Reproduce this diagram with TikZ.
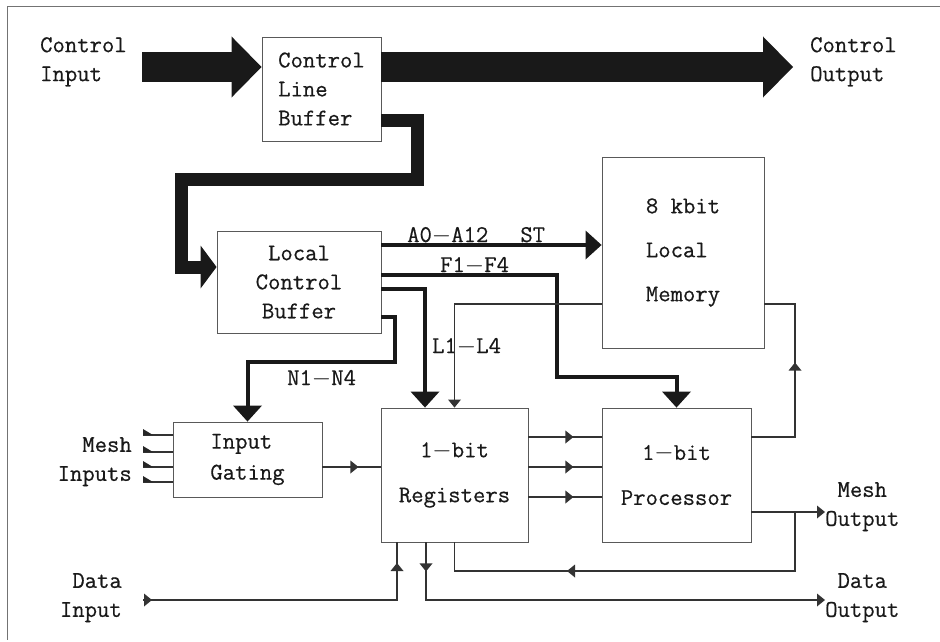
\documentclass[tikz,border=0pt]{standalone}
\usepackage{fontspec}
\newfontfamily\diagfont{Latin Modern Mono}[FakeBold=0.5]
\usetikzlibrary{arrows.meta,decorations.markings,calc}
\newcommand{\dsh}{\ensuremath{-}}
\begin{document}
\begin{tikzpicture}[x=1pt,y=-1pt,
  font=\diagfont\fontsize{24}{29}\selectfont,
  text=black!90,
  box/.style={draw=black!65, line width=0.9pt, inner sep=0pt, align=center},
  lbl/.style={inner sep=0pt},
  wire/.style={draw=black!80, line width=1.2pt},
  bus/.style={draw=black!90, line width=4pt, line join=miter, -{Triangle[length=16pt,width=29pt,line width=0pt]}},
  fat/.style={draw=black!90, line width=13pt, line join=miter, -{Triangle[length=16pt,width=43pt,line width=0pt]}},
  ctl/.style={draw=black!90, line width=30pt, -{Triangle[length=30pt,width=61pt,line width=0pt]}},
  smalltip/.style={-{Triangle[length=8pt,width=13pt,line width=0pt]}},
  midarr/.style={postaction={decorate}, decoration={markings, mark=at position #1 with {\arrow{Triangle[length=8pt,width=13pt,line width=0pt]}}}},
  twoarr/.style 2 args={postaction={decorate}, decoration={markings,
     mark=at position #1 with {\arrow{Triangle[length=8pt,width=13pt,line width=0pt]}},
     mark=at position #2 with {\arrow{Triangle[length=8pt,width=13pt,line width=0pt]}}}}
]
\useasboundingbox (0,0) rectangle (940,642);
% frame
\draw[black!55, line width=0.8pt] (940,6) -- (7,6) -- (7,640);

% helper levels
\coordinate (yC) at (0,67);
\coordinate (yCB) at (0,120);
\coordinate (yLC) at (0,267);
\coordinate (yA) at (0,245);
\coordinate (yF) at (0,275);
\coordinate (yL) at (0,289);
\coordinate (yN) at (0,317);
\coordinate (yM) at (0,304);
\coordinate (yR1) at (0,437);
\coordinate (yR2) at (0,467);
\coordinate (yR3) at (0,497);
\coordinate (yMO) at (0,512);
\coordinate (yFB) at (0,571);
\coordinate (xL) at (425,0);
\coordinate (xR) at (795,0);
\coordinate (xDI) at (397,0);
\coordinate (xDO) at (426,0);
\coordinate (cin) at (142,67);
\coordinate (cout) at (793,67);
\coordinate (b1) at (417,179);
\coordinate (b2) at (181,267);
\coordinate (fA) at (557,377);
\coordinate (nA) at (395,362);
\coordinate (jn) at (795,512);
\coordinate (mout) at (825,512);
\coordinate (din) at (143,600);
\coordinate (dout) at (825,600);

% boxes
\node[box, minimum width=119pt, minimum height=104pt, align=left] (CLB) at (321.5,89) {Control\\Line\\Buffer};
\node[box, minimum width=164pt, minimum height=102pt] (LCB) at (299,282) {Local\\Control\\Buffer};
\node[box, minimum width=162pt, minimum height=191pt, align=left] (MEM) at (683,252.5) {8 kbit\\[15pt]Local\\[15pt]Memory};
\node[box, minimum width=147pt, minimum height=134pt] (REG) at (454.5,475) {1\dsh bit\\[16pt]Registers};
\node[box, minimum width=149pt, minimum height=134pt] (PROC) at (676.5,475) {1\dsh bit\\[16pt]Processor};
\node[box, minimum width=149pt, minimum height=75pt, align=left] (IG) at (247.5,459.5) {Input\\[2pt]Gating};

% outer labels
\node[lbl, anchor=north west, align=left] (cinL) at (40,37) {Control\\Input};
\node[lbl, anchor=north west, align=left] (coutL) at (810,37) {Control\\Output};
\node[lbl, anchor=north east, align=right] (miL) at (132,437) {Mesh\\Inputs};
\node[lbl, anchor=north east, align=right] (diL) at (122,573) {Data\\Input};
\node[lbl, anchor=north west, align=center] (moL) at (825,482) {Mesh\\Output};
\node[lbl, anchor=north west, align=center] (doL) at (825,573) {Data\\Output};

% bus labels
\node[lbl, anchor=base west] (aL) at (407,242) {A0\dsh A12\hspace{32pt}ST};
\node[lbl, anchor=base west] (fL) at (440,272) {F1\dsh F4};
\node[lbl, anchor=base west] (lL) at (432,353) {L1\dsh L4};
\node[lbl, anchor=base west] (nL) at (287,385) {N1\dsh N4};

% control arrows
\draw[ctl] (cin) -- (CLB.west |- yC);
\draw[ctl] (CLB.east |- yC) -- (cout);
\draw[fat] (CLB.east |- yCB) -| (b1) -| (b2) -- (LCB.west |- yLC);

% buses
\draw[bus] (LCB.east |- yA) -- (MEM.west |- yA);
\draw[bus] (LCB.east |- yF) -| (fA) -| (PROC.north);
\draw[bus] (LCB.east |- yL) -| (REG.north -| xL);
\draw[bus] (LCB.east |- yN) -| (nA) -| (IG.north);

% thin wires
\draw[wire, smalltip] (MEM.west |- yM) -| (REG.north);
\draw[wire, midarr=118pt] (PROC.east |- yR1) -| (xR |- yM) -- (MEM.east |- yM);
\draw[wire, midarr=36pt] (IG.east |- yR2) -- (REG.west |- yR2);
\foreach \r in {yR1,yR2,yR3}{
  \draw[wire, midarr=45pt] (REG.east |- \r) -- (PROC.west |- \r);
}
\foreach \y in {435,452,467,482}{
  \coordinate (mi\y) at (143,\y);
  \draw[wire] (mi\y) -- (IG.west |- mi\y);
  \fill[black!85] (143,\y-6) -- (143,\y) -- (153,\y) -- cycle;
}
\draw[wire, smalltip] (PROC.east |- yMO) -- (mout);
\draw[wire, midarr=287pt] (jn) |- (REG.south |- yFB) -- (REG.south);
\draw[wire, twoarr={9pt}{291pt}] (din) -| (REG.south -| xDI);
\draw[wire, midarr=29pt, smalltip] (REG.south -| xDO) |- (dout);
\end{tikzpicture}
\end{document}
